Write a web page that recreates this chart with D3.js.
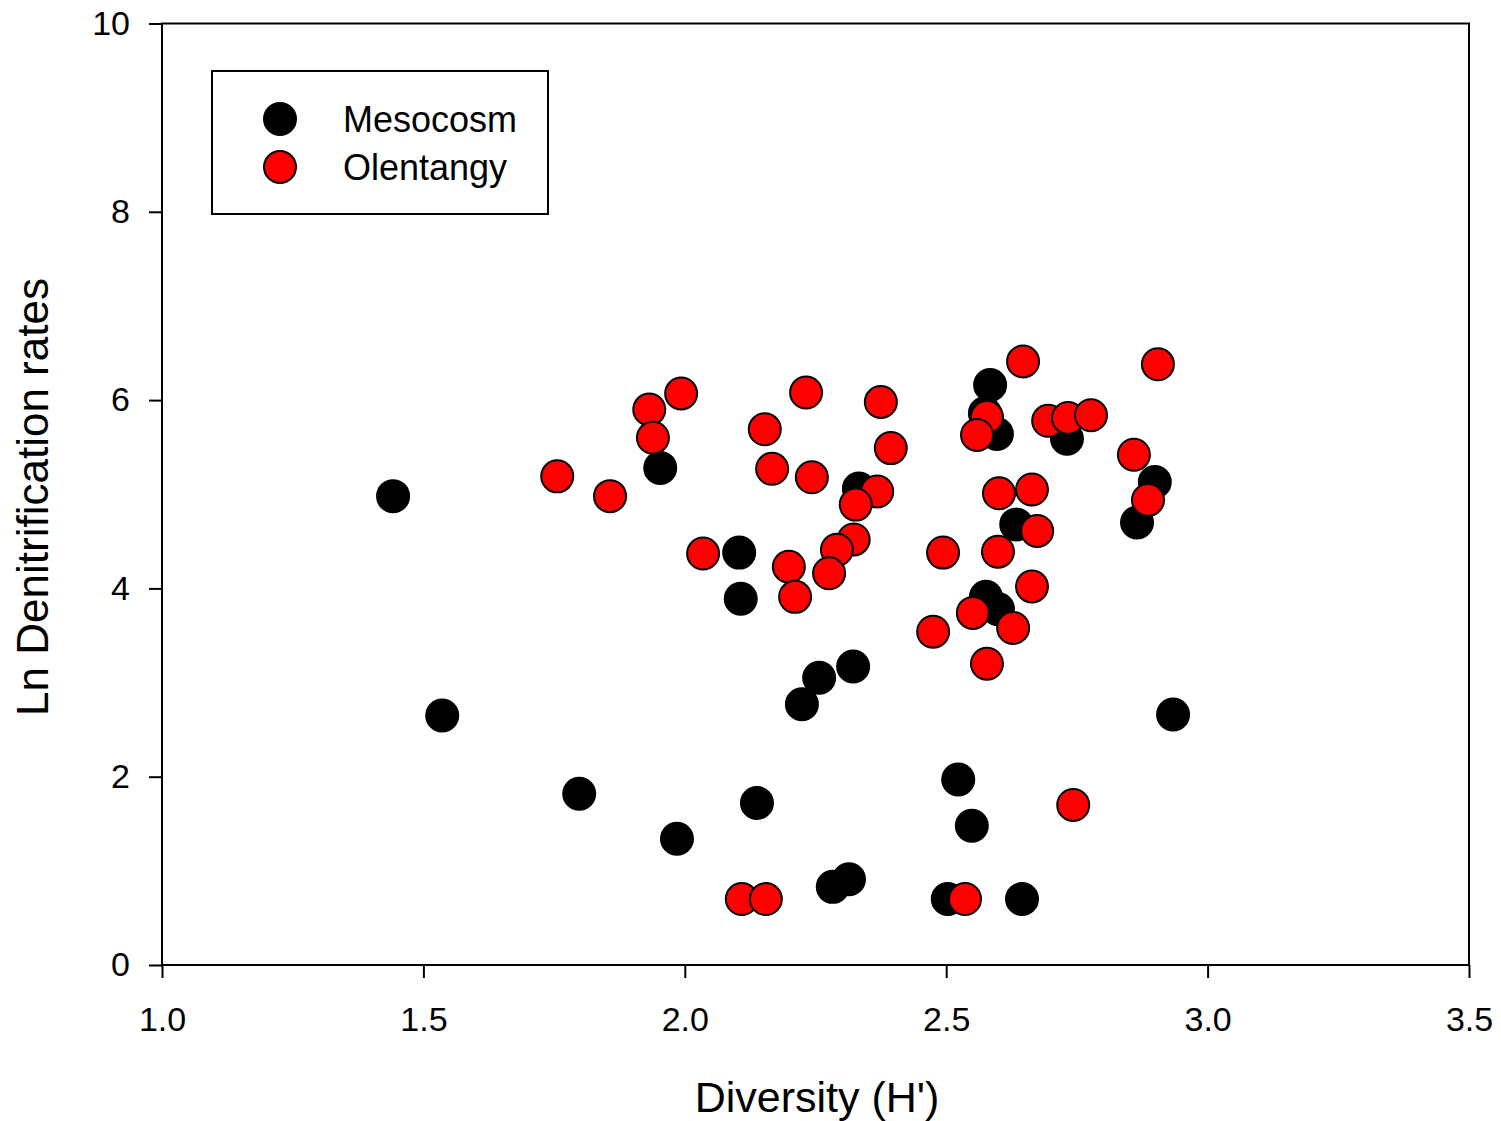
<!DOCTYPE html>
<html>
<head>
<meta charset="utf-8">
<script src="https://cdn.jsdelivr.net/npm/d3@7"></script>
<style>
  body { margin: 0; background: #fff; }
  svg { font-family: Arial, "Liberation Sans", sans-serif; }
</style>
</head>
<body>
<svg></svg>
<script>
// Mesocosm (black) points: diversity H', ln denitrification rate
var mesoX = [1.442, 1.536, 1.798, 1.985, 1.953, 2.104, 2.107, 2.138, 2.224, 2.257,
             2.322, 2.283, 2.314, 2.333, 2.523, 2.549, 2.503, 2.645, 2.584, 2.574,
             2.597, 2.731, 2.899, 2.865, 2.634, 2.576, 2.599, 2.934];
var mesoY = [4.98, 2.65, 1.82, 1.34, 5.28, 4.38, 3.89, 1.72, 2.77, 3.05,
             3.17, 0.83, 0.91, 5.06, 1.97, 1.48, 0.70, 0.70, 6.16, 5.86,
             5.64, 5.59, 5.13, 4.70, 4.68, 3.91, 3.78, 2.66];

// Olentangy (red) points
var olenX = [1.756, 1.857, 1.932, 1.993, 1.939, 2.035, 2.153, 2.232, 2.375, 2.394,
             2.167, 2.243, 2.368, 2.327, 2.323, 2.291, 2.199, 2.276, 2.211, 2.494,
             2.109, 2.155, 2.536, 2.743, 2.647, 2.905, 2.578, 2.559, 2.695, 2.733,
             2.777, 2.859, 2.886, 2.601, 2.664, 2.674, 2.599, 2.664, 2.551, 2.628,
             2.475, 2.578];
var olenY = [5.19, 4.98, 5.90, 6.07, 5.60, 4.37, 5.69, 6.08, 5.98, 5.49,
             5.27, 5.18, 5.03, 4.89, 4.52, 4.41, 4.23, 4.16, 3.91, 4.38,
             0.70, 0.70, 0.70, 1.70, 6.41, 6.38, 5.82, 5.63, 5.78, 5.81,
             5.84, 5.42, 4.94, 5.01, 5.05, 4.61, 4.39, 4.02, 3.74, 3.58,
             3.54, 3.20];

var xTicks = [1.0, 1.5, 2.0, 2.5, 3.0, 3.5];
var yTicks = [0, 2, 4, 6, 8, 10];
var seriesNames = ['Mesocosm', 'Olentangy'];
var seriesColors = ['#000000', '#ff0000'];

var W = 1501, H = 1121;
var L = 162, R = 1469, T = 23.5, B = 965;

var svg = d3.select('svg')
    .attr('width', W)
    .attr('height', H);

var x = d3.scaleLinear().domain([1.0, 3.5]).range([L, R]);
var y = d3.scaleLinear().domain([0, 10]).range([B, T]);

// frame
svg.append('rect')
    .attr('x', L).attr('y', T)
    .attr('width', R - L).attr('height', B - T)
    .attr('fill', 'none')
    .attr('stroke', '#000')
    .attr('stroke-width', 2);

var xAxis = d3.axisBottom(x)
    .tickValues(xTicks)
    .tickFormat(d3.format('.1f'))
    .tickSizeInner(13)
    .tickSizeOuter(0)
    .tickPadding(29);
var gx = svg.append('g')
    .attr('transform', 'translate(0,' + B + ')')
    .call(xAxis);

var yAxis = d3.axisLeft(y)
    .tickValues(yTicks)
    .tickFormat(d3.format('d'))
    .tickSizeInner(13)
    .tickSizeOuter(0)
    .tickPadding(19);
var gy = svg.append('g')
    .attr('transform', 'translate(' + L + ',0)')
    .call(yAxis);

[gx, gy].forEach(function (g) {
    g.select('.domain').remove();
    g.selectAll('.tick line').attr('stroke', '#000').attr('stroke-width', 2);
    g.selectAll('.tick text')
        .attr('fill', '#000')
        .style('font-size', '34px')
        .style('font-family', 'Arial, "Liberation Sans", sans-serif');
});

// axis titles
svg.append('text')
    .attr('x', 817).attr('y', 1112)
    .attr('text-anchor', 'middle')
    .style('font-size', '43px')
    .text("Diversity (H')");

svg.append('text')
    .attr('transform', 'translate(48,497) rotate(-90)')
    .attr('text-anchor', 'middle')
    .style('font-size', '44px')
    .text('Ln Denitrification rates');

// points
var meso = mesoX.map(function (v, i) { return { x: v, y: mesoY[i] }; });
var olen = olenX.map(function (v, i) { return { x: v, y: olenY[i] }; });

var r = 16;
svg.append('g').selectAll('circle')
    .data(meso)
    .enter().append('circle')
    .attr('cx', function (d) { return x(d.x); })
    .attr('cy', function (d) { return y(d.y); })
    .attr('r', r)
    .attr('fill', seriesColors[0])
    .attr('stroke', '#000')
    .attr('stroke-width', 2);

svg.append('g').selectAll('circle')
    .data(olen)
    .enter().append('circle')
    .attr('cx', function (d) { return x(d.x); })
    .attr('cy', function (d) { return y(d.y); })
    .attr('r', r)
    .attr('fill', seriesColors[1])
    .attr('stroke', '#000')
    .attr('stroke-width', 2);

// legend
var lg = svg.append('g');
lg.append('rect')
    .attr('x', 212).attr('y', 71)
    .attr('width', 336).attr('height', 143)
    .attr('fill', '#fff')
    .attr('stroke', '#000')
    .attr('stroke-width', 2);

var rows = lg.selectAll('g.row')
    .data(seriesNames)
    .enter().append('g')
    .attr('class', 'row')
    .attr('transform', function (d, i) { return 'translate(0,' + (119 + i * 48) + ')'; });
rows.append('circle')
    .attr('cx', 280).attr('cy', 0)
    .attr('r', r)
    .attr('fill', function (d, i) { return seriesColors[i]; })
    .attr('stroke', '#000')
    .attr('stroke-width', 2);
rows.append('text')
    .attr('x', 343).attr('y', 13)
    .style('font-size', '36px')
    .text(function (d) { return d; });
</script>
</body>
</html>
